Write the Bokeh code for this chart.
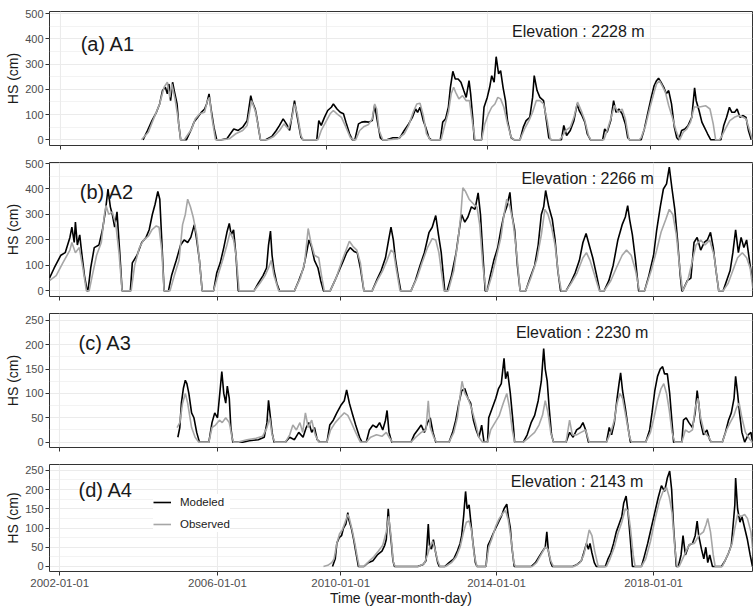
from bokeh.plotting import figure
from bokeh.layouts import column
from bokeh.models import Range1d, FixedTicker, Label, Legend, LegendItem, CustomLabelingPolicy
from bokeh.embed import file_html
from bokeh.resources import INLINE

FONT = "Liberation Sans"

station_tags = ["(a) A1", "(b) A2", "(c) A3", "(d) A4"]
elevations_m = [2228, 2266, 2230, 2143]
date_tick_labels = ["2002-01-01", "2006-01-01", "2010-01-01", "2014-01-01", "2018-01-01"]
# tick locations (decimal years) as they are drawn in the source figure
ticks_a = [2003.43, 2006.84, 2010.0, 2013.98, 2018.0]
ticks_bcd = [2002.87, 2006.89, 2010.03, 2014.0, 2018.0]

# ---------------- A1 ----------------
a1_mod_t = [2005.47, 2005.58, 2005.69, 2005.80, 2005.88, 2005.95, 2006.02, 2006.07, 2006.11, 2006.15, 2006.20, 2006.24, 2006.31, 2006.35, 2006.40,
            2006.54, 2006.65, 2006.73, 2006.82, 2006.91, 2006.99, 2007.04, 2007.10, 2007.15, 2007.22, 2007.29,
            2007.40, 2007.54, 2007.71, 2007.82, 2007.93, 2008.04, 2008.13, 2008.17, 2008.24, 2008.28, 2008.33, 2008.37,
            2008.50, 2008.65, 2008.76, 2008.84, 2008.93, 2009.01, 2009.09, 2009.17, 2009.21, 2009.28, 2009.37, 2009.42,
            2009.76, 2009.81, 2009.87, 2009.95, 2010.03, 2010.12, 2010.17, 2010.26, 2010.34, 2010.42, 2010.48, 2010.57, 2010.64,
            2010.70, 2010.79, 2010.87, 2010.95, 2011.04, 2011.13, 2011.19, 2011.26, 2011.33, 2011.39,
            2011.49, 2011.64, 2011.81, 2011.92, 2012.03, 2012.12, 2012.20, 2012.25, 2012.31, 2012.39, 2012.45, 2012.53, 2012.59,
            2012.81, 2012.87, 2012.94, 2013.01, 2013.06, 2013.12, 2013.18, 2013.25, 2013.32, 2013.39, 2013.45, 2013.52, 2013.56, 2013.61, 2013.65,
            2013.83, 2013.89, 2013.97, 2014.03, 2014.08, 2014.14, 2014.19, 2014.25, 2014.30, 2014.36, 2014.42, 2014.47, 2014.56, 2014.64,
            2014.78, 2014.86, 2014.93, 2015.02, 2015.09, 2015.13, 2015.20, 2015.27, 2015.36, 2015.42, 2015.49, 2015.56,
            2015.80, 2015.86, 2015.93, 2016.02, 2016.11, 2016.19, 2016.24, 2016.31, 2016.38, 2016.44, 2016.52,
            2016.82, 2016.87, 2016.93, 2017.02, 2017.09, 2017.15, 2017.22, 2017.30, 2017.38, 2017.44, 2017.49,
            2017.77, 2017.85, 2017.93, 2018.02, 2018.09, 2018.15, 2018.20, 2018.26, 2018.33, 2018.39, 2018.45, 2018.52, 2018.59, 2018.65, 2018.70,
            2018.77, 2018.85, 2018.93, 2019.02, 2019.09, 2019.13, 2019.20, 2019.27, 2019.33, 2019.41, 2019.49,
            2019.74, 2019.81, 2019.88, 2019.95, 2020.01, 2020.08, 2020.14, 2020.21, 2020.29, 2020.36, 2020.42, 2020.49]
a1_mod_hs = [0, 37, 76, 109, 142, 195, 208, 182, 221, 155, 228, 195, 142, 63, 0,
             0, 37, 70, 89, 109, 122, 142, 182, 122, 50, 0,
             0, 4, 43, 37, 50, 76, 175, 149, 122, 89, 37, 0,
             0, 13, 37, 57, 83, 63, 37, 116, 155, 89, 10, 0,
             0, 76, 57, 89, 116, 129, 142, 122, 109, 103, 70, 24, 0,
             0, 63, 70, 72, 70, 76, 136, 70, 8, 0,
             0, 8, 8, 37, 63, 89, 122, 109, 129, 76, 50, 8, 0,
             0, 70, 83, 129, 208, 271, 241, 241, 228, 195, 168, 234, 182, 89, 0,
             0, 129, 168, 208, 254, 228, 329, 261, 274, 208, 155, 76, 8, 0,
             0, 50, 76, 89, 168, 254, 195, 168, 155, 89, 8, 0,
             0, 57, 17, 37, 76, 142, 116, 96, 70, 24, 0,
             0, 43, 30, 76, 155, 109, 122, 103, 63, 8, 0,
             0, 43, 103, 168, 214, 234, 244, 228, 208, 182, 195, 142, 50, 8, 0,
             37, 43, 57, 89, 206, 155, 116, 70, 50, 24, 0,
             0, 57, 89, 129, 109, 109, 122, 89, 96, 89, 37, 0]
a1_obs_t = [2005.43, 2005.60, 2005.73, 2005.88, 2005.99, 2006.07, 2006.13, 2006.18, 2006.26, 2006.33, 2006.40,
            2006.49, 2006.67, 2006.76, 2006.87, 2006.99, 2007.06, 2007.11, 2007.17, 2007.26,
            2007.45, 2007.60, 2007.76, 2007.93, 2008.04, 2008.15, 2008.24, 2008.32, 2008.37,
            2008.54, 2008.70, 2008.84, 2008.95, 2009.06, 2009.15, 2009.21, 2009.28, 2009.37, 2009.42,
            2009.79, 2009.87, 2009.98, 2010.09, 2010.17, 2010.26, 2010.37, 2010.48, 2010.59, 2010.68,
            2010.72, 2010.82, 2010.93, 2011.04, 2011.13, 2011.19, 2011.24, 2011.30, 2011.39,
            2011.52, 2011.75, 2011.92, 2012.03, 2012.14, 2012.23, 2012.31, 2012.39, 2012.47, 2012.56,
            2012.83, 2012.92, 2013.01, 2013.08, 2013.14, 2013.19, 2013.27, 2013.36, 2013.45, 2013.53, 2013.61, 2013.67,
            2013.83, 2013.91, 2014.00, 2014.08, 2014.16, 2014.23, 2014.30, 2014.38, 2014.47, 2014.56, 2014.64,
            2014.78, 2014.89, 2015.00, 2015.09, 2015.18, 2015.27, 2015.36, 2015.45, 2015.53,
            2015.75, 2015.80, 2015.91, 2016.02, 2016.11, 2016.20, 2016.29, 2016.38, 2016.47, 2016.53,
            2016.85, 2016.93, 2017.02, 2017.11, 2017.20, 2017.30, 2017.38, 2017.47,
            2017.72, 2017.77, 2017.88, 2017.99, 2018.09, 2018.15, 2018.22, 2018.29, 2018.37, 2018.45, 2018.54, 2018.63, 2018.72,
            2018.81, 2018.90, 2018.99, 2019.08, 2019.21, 2019.36, 2019.47, 2019.55, 2019.61,
            2019.70, 2019.74, 2019.85, 2019.96, 2020.07, 2020.18, 2020.29, 2020.36, 2020.45, 2020.52]
a1_obs_hs = [0, 30, 83, 142, 208, 228, 168, 221, 162, 89, 0,
             0, 43, 83, 103, 109, 155, 168, 89, 0,
             0, 4, 24, 37, 57, 155, 116, 50, 0,
             0, 13, 37, 63, 43, 89, 142, 103, 17, 0,
             0, 37, 70, 103, 116, 103, 89, 50, 8, 0,
             0, 37, 53, 61, 83, 142, 122, 37, 0,
             0, 3, 24, 57, 109, 142, 145, 96, 24, 0,
             0, 57, 109, 182, 208, 188, 162, 175, 155, 155, 63, 0,
             0, 63, 103, 129, 142, 168, 162, 129, 63, 10, 0,
             0, 43, 76, 109, 155, 155, 142, 76, 0,
             0, 8, 37, 50, 89, 149, 116, 76, 17, 0,
             0, 37, 83, 136, 109, 122, 83, 0,
             0, 8, 57, 129, 188, 221, 234, 214, 188, 136, 89, 37, 0,
             30, 43, 70, 130, 130, 135, 122, 63, 0,
             0, 8, 43, 76, 89, 96, 89, 83, 37, 0]

# ---------------- A2 ----------------
a2_mod_t = [2002.61, 2002.73, 2002.90, 2003.01, 2003.13, 2003.18, 2003.24, 2003.27, 2003.32, 2003.38, 2003.43, 2003.50, 2003.57,
            2003.59, 2003.66, 2003.75, 2003.87, 2003.96, 2004.04, 2004.10, 2004.16, 2004.21, 2004.27, 2004.33, 2004.40, 2004.46,
            2004.67, 2004.72, 2004.84, 2004.96, 2005.07, 2005.15, 2005.23, 2005.30, 2005.37, 2005.42, 2005.47, 2005.53,
            2005.64, 2005.72, 2005.84, 2005.95, 2006.04, 2006.13, 2006.21, 2006.30, 2006.36, 2006.43, 2006.50,
            2006.79, 2006.87, 2006.96, 2007.05, 2007.13, 2007.19, 2007.24, 2007.30, 2007.36, 2007.42,
            2007.82, 2007.93, 2008.05, 2008.14, 2008.19, 2008.24, 2008.28, 2008.33, 2008.40, 2008.47,
            2008.85, 2008.96, 2009.08, 2009.16, 2009.22, 2009.29, 2009.36, 2009.45, 2009.52, 2009.59,
            2009.76, 2009.88, 2009.99, 2010.10, 2010.18, 2010.27, 2010.37, 2010.45, 2010.53, 2010.62,
            2010.83, 2010.94, 2011.06, 2011.17, 2011.25, 2011.31, 2011.37, 2011.42, 2011.49, 2011.56,
            2011.82, 2011.93, 2012.05, 2012.16, 2012.28, 2012.36, 2012.45, 2012.52, 2012.59, 2012.68,
            2012.74, 2012.85, 2012.97, 2013.05, 2013.11, 2013.19, 2013.27, 2013.36, 2013.45, 2013.53, 2013.59, 2013.66, 2013.71,
            2013.76, 2013.84, 2013.93, 2014.03, 2014.11, 2014.19, 2014.26, 2014.34, 2014.39, 2014.46, 2014.53, 2014.60,
            2014.74, 2014.85, 2014.97, 2015.06, 2015.14, 2015.20, 2015.25, 2015.33, 2015.42, 2015.49, 2015.56, 2015.63,
            2015.77, 2015.88, 2016.00, 2016.11, 2016.20, 2016.28, 2016.36, 2016.45, 2016.55, 2016.63,
            2016.74, 2016.86, 2016.97, 2017.09, 2017.20, 2017.28, 2017.34, 2017.39, 2017.46, 2017.54, 2017.62,
            2017.77, 2017.88, 2018.00, 2018.08, 2018.17, 2018.25, 2018.33, 2018.40, 2018.47, 2018.54, 2018.61, 2018.68, 2018.72,
            2018.74, 2018.86, 2018.95, 2019.03, 2019.11, 2019.20, 2019.29, 2019.37, 2019.45, 2019.52, 2019.59, 2019.66,
            2019.77, 2019.86, 2019.95, 2020.02, 2020.09, 2020.16, 2020.23, 2020.30, 2020.37, 2020.46, 2020.53]
a2_mod_hs = [50, 90, 140, 150, 210, 250, 190, 270, 180, 220, 150, 60, 0,
             0, 90, 170, 180, 240, 320, 400, 330, 300, 250, 310, 150, 0,
             0, 110, 140, 190, 210, 240, 300, 340, 390, 360, 200, 0,
             0, 60, 120, 180, 200, 190, 210, 260, 200, 120, 0,
             0, 70, 110, 170, 230, 265, 220, 240, 140, 0,
             0, 30, 60, 90, 180, 235, 140, 80, 30, 0,
             0, 40, 90, 150, 200, 170, 120, 90, 40, 0,
             0, 40, 80, 120, 150, 170, 155, 150, 90, 0,
             0, 40, 80, 130, 200, 250, 200, 130, 60, 0,
             0, 40, 100, 150, 230, 250, 296, 220, 150, 0,
             0, 60, 150, 240, 300, 270, 290, 330, 320, 385, 300, 120, 0,
             0, 60, 120, 170, 240, 300, 330, 387, 300, 240, 100, 0,
             0, 50, 100, 180, 300, 330, 394, 330, 280, 200, 80, 0,
             0, 30, 70, 120, 190, 225, 180, 130, 60, 0,
             0, 40, 100, 200, 260, 290, 335, 280, 220, 120, 0,
             0, 60, 140, 240, 330, 400, 420, 486, 400, 320, 200, 60, 0,
             0, 40, 50, 190, 210, 160, 190, 200, 230, 170, 80, 0,
             0, 40, 80, 150, 240, 150, 210, 170, 200, 100, 30]
a2_obs_t = [2002.61, 2002.78, 2002.95, 2003.13, 2003.18, 2003.27, 2003.37, 2003.46, 2003.55,
            2003.62, 2003.70, 2003.81, 2003.93, 2004.01, 2004.05, 2004.12, 2004.21, 2004.30, 2004.38, 2004.46,
            2004.69, 2004.78, 2004.90, 2005.01, 2005.13, 2005.22, 2005.33, 2005.40, 2005.47, 2005.53,
            2005.68, 2005.79, 2005.91, 2006.00, 2006.07, 2006.13, 2006.20, 2006.27, 2006.36, 2006.43, 2006.50,
            2006.79, 2006.90, 2007.02, 2007.13, 2007.21, 2007.30, 2007.37, 2007.44,
            2007.82, 2007.97, 2008.10, 2008.19, 2008.26, 2008.33, 2008.45,
            2008.85, 2009.00, 2009.11, 2009.20, 2009.27, 2009.36, 2009.47, 2009.54, 2009.61,
            2009.76, 2009.91, 2010.02, 2010.14, 2010.25, 2010.34, 2010.44, 2010.53, 2010.62,
            2010.83, 2010.96, 2011.10, 2011.21, 2011.31, 2011.38, 2011.44, 2011.54,
            2011.82, 2011.97, 2012.10, 2012.24, 2012.36, 2012.45, 2012.53, 2012.66,
            2012.77, 2012.91, 2013.02, 2013.09, 2013.14, 2013.21, 2013.30, 2013.42, 2013.50, 2013.57, 2013.65, 2013.73,
            2013.76, 2013.88, 2013.99, 2014.11, 2014.19, 2014.26, 2014.34, 2014.42, 2014.51, 2014.60,
            2014.74, 2014.87, 2015.02, 2015.14, 2015.23, 2015.31, 2015.40, 2015.49, 2015.58, 2015.65,
            2015.77, 2015.90, 2016.05, 2016.20, 2016.29, 2016.38, 2016.50, 2016.62,
            2016.74, 2016.91, 2017.05, 2017.20, 2017.31, 2017.43, 2017.54, 2017.64,
            2017.77, 2017.94, 2018.08, 2018.19, 2018.31, 2018.40, 2018.49, 2018.58, 2018.66, 2018.74,
            2018.87, 2018.99, 2019.08, 2019.20, 2019.31, 2019.43, 2019.54, 2019.66,
            2019.77, 2019.90, 2020.02, 2020.14, 2020.26, 2020.37, 2020.46, 2020.53]
a2_obs_hs = [40, 60, 110, 160, 190, 150, 170, 90, 0,
             0, 60, 140, 190, 300, 335, 300, 310, 260, 150, 0,
             0, 100, 170, 200, 215, 240, 255, 250, 160, 0,
             0, 60, 120, 260, 300, 360, 330, 290, 220, 120, 0,
             0, 60, 120, 180, 230, 200, 130, 0,
             0, 30, 60, 90, 120, 60, 0,
             0, 50, 110, 245, 190, 140, 130, 60, 0,
             0, 50, 100, 150, 195, 175, 160, 110, 0,
             0, 40, 80, 120, 160, 150, 90, 0,
             0, 50, 110, 170, 205, 200, 150, 0,
             0, 80, 200, 300, 405, 390, 360, 340, 330, 260, 100, 0,
             0, 60, 130, 210, 300, 360, 330, 270, 150, 0,
             0, 50, 120, 220, 320, 300, 250, 180, 60, 0,
             0, 30, 70, 130, 150, 120, 60, 0,
             0, 40, 90, 140, 160, 140, 80, 0,
             0, 80, 160, 230, 280, 320, 300, 220, 100, 0,
             40, 120, 180, 200, 180, 200, 140, 0,
             0, 30, 80, 130, 150, 130, 90, 10]

# ---------------- A3 ----------------
a3_mod_t = [2005.88, 2005.93, 2005.97, 2006.02, 2006.07, 2006.11, 2006.16, 2006.23, 2006.29, 2006.36, 2006.43,
            2006.67, 2006.75, 2006.82, 2006.89, 2006.96, 2007.00, 2007.05, 2007.10, 2007.14, 2007.19, 2007.23, 2007.28,
            2007.53, 2007.70, 2007.93, 2008.08, 2008.15, 2008.19, 2008.24, 2008.28, 2008.33,
            2008.62, 2008.73, 2008.85, 2008.96, 2009.07, 2009.15, 2009.22, 2009.29, 2009.36, 2009.43, 2009.50,
            2009.68, 2009.75, 2009.84, 2009.93, 2010.03, 2010.12, 2010.18, 2010.25, 2010.32, 2010.41, 2010.51, 2010.57,
            2010.68, 2010.76, 2010.85, 2010.94, 2011.02, 2011.10, 2011.17, 2011.21, 2011.26, 2011.33,
            2011.82, 2011.90, 2011.99, 2012.08, 2012.16, 2012.24, 2012.31, 2012.38, 2012.45,
            2012.79, 2012.88, 2012.96, 2013.04, 2013.11, 2013.19, 2013.27, 2013.34, 2013.41, 2013.48, 2013.55, 2013.62, 2013.68,
            2013.77, 2013.80, 2013.89, 2013.98, 2014.05, 2014.12, 2014.19, 2014.23, 2014.28, 2014.35, 2014.42, 2014.46,
            2014.68, 2014.78, 2014.88, 2014.97, 2015.06, 2015.14, 2015.20, 2015.24, 2015.29, 2015.34, 2015.40, 2015.45,
            2015.77, 2015.86, 2015.95, 2016.04, 2016.13, 2016.20, 2016.27, 2016.34,
            2016.80, 2016.87, 2016.93, 2017.00, 2017.07, 2017.12, 2017.16, 2017.21, 2017.28, 2017.35, 2017.41,
            2017.80, 2017.90, 2017.96, 2018.03, 2018.10, 2018.17, 2018.23, 2018.28, 2018.35, 2018.41, 2018.47, 2018.51,
            2018.72, 2018.76, 2018.83, 2018.90, 2018.99, 2019.06, 2019.11, 2019.15, 2019.20, 2019.27, 2019.36, 2019.43, 2019.47,
            2019.75, 2019.83, 2019.91, 2019.98, 2020.05, 2020.09, 2020.14, 2020.19, 2020.25, 2020.32, 2020.41, 2020.48, 2020.52]
a3_mod_hs = [10, 30, 80, 110, 127, 120, 100, 60, 50, 20, 0,
             0, 40, 60, 50, 110, 145, 100, 80, 115, 90, 30, 0,
             0, 3, 5, 10, 40, 86, 50, 20, 0,
             0, 10, 5, 20, 10, 30, 40, 20, 30, 5, 0,
             0, 35, 45, 60, 75, 85, 107, 80, 60, 35, 10, 0,
             0, 25, 35, 30, 40, 25, 45, 65, 20, 0,
             0, 15, 25, 35, 20, 40, 50, 20, 0,
             0, 20, 45, 80, 105, 110, 90, 80, 45, 25, 10, 35, 0,
             0, 50, 70, 90, 110, 120, 172, 130, 145, 100, 40, 0,
             0, 15, 40, 55, 85, 125, 192, 150, 125, 70, 15, 0,
             0, 20, 10, 25, 30, 40, 25, 0,
             0, 30, 15, 40, 90, 120, 142, 105, 70, 30, 0,
             0, 25, 60, 105, 135, 150, 155, 140, 140, 100, 40, 0,
             0, 45, 50, 40, 30, 60, 106, 80, 40, 15, 25, 5, 0,
             0, 20, 45, 60, 90, 135, 100, 60, 20, 0, 15, 20, 0]
a3_obs_t = [2005.86, 2005.93, 2006.00, 2006.07, 2006.13, 2006.23, 2006.32, 2006.41,
            2006.67, 2006.75, 2006.84, 2006.94, 2007.01, 2007.10, 2007.19, 2007.26, 2007.30,
            2007.42, 2007.64, 2007.87, 2008.04, 2008.15, 2008.22, 2008.28, 2008.35,
            2008.62, 2008.73, 2008.81, 2008.90, 2008.99, 2009.06, 2009.13, 2009.20, 2009.29, 2009.38, 2009.47,
            2009.68, 2009.77, 2009.89, 2010.00, 2010.12, 2010.21, 2010.30, 2010.41, 2010.53,
            2010.68, 2010.79, 2010.94, 2011.08, 2011.19, 2011.28, 2011.35,
            2011.82, 2011.94, 2012.08, 2012.20, 2012.26, 2012.31, 2012.40, 2012.47,
            2012.79, 2012.91, 2013.00, 2013.08, 2013.12, 2013.19, 2013.27, 2013.36, 2013.46, 2013.55, 2013.64,
            2013.77, 2013.85, 2013.96, 2014.07, 2014.17, 2014.26, 2014.33, 2014.40, 2014.46,
            2014.68, 2014.83, 2014.97, 2015.08, 2015.17, 2015.24, 2015.31, 2015.38, 2015.45,
            2015.77, 2015.86, 2015.93, 2016.04, 2016.15, 2016.27, 2016.36,
            2016.80, 2016.91, 2017.00, 2017.07, 2017.14, 2017.21, 2017.30, 2017.39, 2017.44,
            2017.80, 2017.92, 2018.01, 2018.10, 2018.19, 2018.26, 2018.33, 2018.40, 2018.47, 2018.54,
            2018.72, 2018.81, 2018.90, 2018.99, 2019.06, 2019.13, 2019.20, 2019.29, 2019.41, 2019.47,
            2019.75, 2019.86, 2019.95, 2020.05, 2020.11, 2020.18, 2020.25, 2020.34, 2020.46, 2020.52]
a3_obs_hs = [30, 40, 80, 100, 80, 30, 10, 0,
             0, 30, 35, 45, 40, 50, 40, 10, 0,
             0, 5, 8, 12, 30, 50, 15, 0,
             0, 15, 35, 25, 40, 20, 60, 30, 45, 15, 0,
             0, 25, 40, 50, 60, 55, 40, 20, 0,
             0, 10, 15, 12, 20, 8, 0,
             0, 10, 20, 25, 85, 30, 10, 0,
             0, 20, 50, 100, 125, 100, 90, 70, 40, 10, 0,
             0, 25, 40, 55, 80, 100, 70, 25, 0,
             0, 10, 20, 35, 55, 85, 60, 20, 0,
             0, 45, 15, 15, 20, 25, 0,
             0, 20, 45, 80, 100, 90, 50, 10, 0,
             0, 20, 50, 85, 110, 120, 100, 65, 20, 0,
             0, 25, 20, 25, 70, 90, 50, 20, 10, 0,
             0, 25, 40, 55, 70, 80, 50, 20, 5, 0]

# ---------------- A4 ----------------
a4_mod_t = [2009.82, 2009.89, 2009.93, 2009.99, 2010.05, 2010.10, 2010.16, 2010.21, 2010.24, 2010.30, 2010.36, 2010.41, 2010.48,
            2010.62, 2010.73, 2010.85, 2010.96, 2011.08, 2011.15, 2011.19, 2011.24, 2011.27, 2011.32, 2011.36, 2011.40,
            2011.99, 2012.13, 2012.20, 2012.26, 2012.29, 2012.34, 2012.39, 2012.45, 2012.50, 2012.54,
            2012.68, 2012.79, 2012.91, 2013.00, 2013.07, 2013.11, 2013.16, 2013.21, 2013.25, 2013.30, 2013.34, 2013.40, 2013.46, 2013.50,
            2013.73, 2013.78, 2013.85, 2013.91, 2013.98, 2014.05, 2014.12, 2014.19, 2014.26, 2014.30, 2014.35, 2014.39, 2014.45,
            2014.88, 2014.99, 2015.08, 2015.17, 2015.24, 2015.28, 2015.32, 2015.38, 2015.42,
            2015.94, 2016.05, 2016.16, 2016.22, 2016.29, 2016.34, 2016.38, 2016.43, 2016.49, 2016.54,
            2016.77, 2016.84, 2016.91, 2016.98, 2017.05, 2017.12, 2017.19, 2017.24, 2017.30, 2017.35, 2017.40, 2017.46,
            2017.69, 2017.76, 2017.85, 2017.94, 2018.03, 2018.12, 2018.20, 2018.28, 2018.35, 2018.41, 2018.46, 2018.51, 2018.58,
            2018.63, 2018.70, 2018.75, 2018.81, 2018.90, 2018.99, 2019.06, 2019.11, 2019.15, 2019.22, 2019.28, 2019.33, 2019.38, 2019.43, 2019.50,
            2019.73, 2019.82, 2019.91, 2019.98, 2020.02, 2020.07, 2020.09, 2020.14, 2020.20, 2020.25, 2020.32, 2020.39, 2020.46, 2020.52]
a4_mod_hs = [0, 20, 60, 75, 80, 100, 110, 140, 120, 100, 70, 40, 0,
             0, 10, 15, 30, 40, 55, 70, 150, 110, 60, 15, 0,
             0, 5, 15, 110, 55, 45, 70, 35, 10, 0,
             0, 10, 20, 40, 60, 80, 130, 195, 150, 160, 120, 60, 10, 0,
             0, 55, 70, 85, 100, 115, 130, 150, 162, 130, 100, 50, 0,
             0, 10, 25, 40, 50, 90, 40, 10, 0,
             0, 5, 15, 35, 60, 45, 60, 35, 10, 0,
             0, 20, 35, 60, 90, 110, 130, 165, 183, 140, 80, 0,
             0, 25, 60, 100, 140, 180, 210, 195, 230, 248, 200, 100, 0,
             0, 30, 80, 30, 55, 60, 80, 118, 80, 45, 20, 50, 10, 30, 0,
             0, 15, 35, 55, 100, 160, 230, 150, 115, 130, 100, 70, 30, 0]
a4_obs_t = [2009.59, 2009.70, 2009.80, 2009.86, 2009.93, 2010.00, 2010.07, 2010.14, 2010.21, 2010.25, 2010.32, 2010.39, 2010.45, 2010.50,
            2010.62, 2010.76, 2010.87, 2010.99, 2011.10, 2011.19, 2011.25, 2011.31, 2011.37, 2011.42,
            2012.01, 2012.16, 2012.24, 2012.31, 2012.37, 2012.43, 2012.50, 2012.56,
            2012.70, 2012.85, 2012.97, 2013.07, 2013.16, 2013.23, 2013.30, 2013.36, 2013.43, 2013.50,
            2013.73, 2013.80, 2013.89, 2013.98, 2014.07, 2014.17, 2014.23, 2014.30, 2014.37, 2014.44, 2014.48,
            2014.91, 2015.02, 2015.13, 2015.24, 2015.31, 2015.38, 2015.45,
            2015.97, 2016.13, 2016.22, 2016.29, 2016.36, 2016.43, 2016.50, 2016.59,
            2016.80, 2016.89, 2017.00, 2017.09, 2017.19, 2017.28, 2017.35, 2017.41, 2017.48, 2017.53,
            2017.69, 2017.80, 2017.92, 2018.03, 2018.15, 2018.24, 2018.33, 2018.40, 2018.47, 2018.54, 2018.60,
            2018.65, 2018.74, 2018.83, 2018.92, 2019.04, 2019.15, 2019.27, 2019.34, 2019.38, 2019.45, 2019.52, 2019.57,
            2019.75, 2019.84, 2019.93, 2020.00, 2020.07, 2020.14, 2020.23, 2020.32, 2020.39, 2020.48, 2020.55]
a4_obs_hs = [0, 3, 10, 20, 60, 85, 95, 115, 135, 125, 95, 60, 25, 0,
             0, 15, 25, 40, 55, 90, 130, 80, 10, 0,
             0, 8, 30, 55, 65, 45, 15, 0,
             0, 10, 25, 50, 90, 115, 118, 95, 30, 0,
             0, 50, 75, 105, 125, 140, 145, 120, 70, 10, 0,
             0, 10, 30, 50, 45, 15, 0,
             0, 10, 30, 60, 95, 80, 40, 0,
             0, 20, 50, 85, 115, 150, 145, 100, 30, 0,
             0, 20, 65, 120, 170, 195, 205, 180, 140, 50, 0,
             0, 20, 40, 58, 60, 80, 90, 110, 125, 90, 30, 0,
             0, 20, 40, 60, 100, 135, 130, 135, 125, 90, 20]

MOD_COLOR = "#000000"
OBS_COLOR = "#a6a6a6"
GRID = "#ebebeb"
DARK = "#333333"


def make_panel(idx, mod_t, mod_v, obs_t, obs_v, x_start, ticks, y_start, y_end,
               y_major, y_minor, height, top, bottom, tag_xy, elev_xy, last=False):
    p = figure(width=753, height=height, output_backend="svg", toolbar_location=None,
               x_range=Range1d(x_start, 2020.52), y_range=Range1d(y_start, y_end),
               min_border_left=49, min_border_right=1, min_border_top=top, min_border_bottom=bottom,
               background_fill_color="white", border_fill_color="white")
    p.outline_line_color = DARK
    p.outline_line_width = 1

    xt = FixedTicker(ticks=ticks)
    yt = FixedTicker(ticks=y_major, minor_ticks=y_minor)
    p.xaxis.ticker = xt
    p.xgrid.ticker = xt
    p.yaxis.ticker = yt
    p.ygrid.ticker = yt
    p.xgrid.grid_line_color = GRID
    p.ygrid.grid_line_color = GRID
    p.xgrid.grid_line_width = 1.1
    p.ygrid.grid_line_width = 1.1
    p.ygrid.minor_grid_line_color = GRID
    p.ygrid.minor_grid_line_width = 0.6

    for ax in (p.xaxis[0], p.yaxis[0]):
        ax.axis_line_color = None
        ax.major_tick_line_color = DARK
        ax.major_tick_in = 0
        ax.major_tick_out = 4
        ax.minor_tick_line_color = None
        ax.major_label_text_color = "#4d4d4d"
        ax.major_label_text_font = FONT
        ax.axis_label_text_font = FONT
        ax.axis_label_text_font_style = "normal"
        ax.axis_label_text_color = "#1a1a1a"
        ax.axis_label_text_font_size = "14px"

    p.yaxis.major_label_text_font_size = "11px"
    p.yaxis.major_label_standoff = 2
    p.yaxis.axis_label = "HS (cm)"
    p.yaxis.axis_label_standoff = 1

    if last:
        p.xaxis.major_label_overrides = {t: lab for t, lab in zip(ticks, date_tick_labels)}
        p.xaxis.major_label_text_font_size = "11.5px"
        p.xaxis.major_label_standoff = 3
        p.xaxis.axis_label = "Time (year-month-day)"
        p.xaxis.axis_label_standoff = 0
    else:
        # tick marks only, no tick labels on the upper panels
        p.xaxis.major_label_policy = CustomLabelingPolicy(code="return [];")
        p.xaxis.major_label_text_font_size = "1px"
        p.xaxis.major_label_standoff = 0

    r_mod = p.line(mod_t, mod_v, line_color=MOD_COLOR, line_width=1.6)
    r_obs = p.line(obs_t, obs_v, line_color=OBS_COLOR, line_width=1.6)

    p.add_layout(Label(x=tag_xy[0], y=tag_xy[1], text=station_tags[idx], text_font=FONT,
                       text_font_size="20px", text_color="#1a1a1a",
                       text_align="left", text_baseline="middle"))
    p.add_layout(Label(x=elev_xy[0], y=elev_xy[1], text="Elevation : %d m" % elevations_m[idx],
                       text_font=FONT, text_font_size="16px", text_color="#1a1a1a",
                       text_align="center", text_baseline="middle"))

    if last:
        legend = Legend(items=[LegendItem(label="Modeled", renderers=[r_mod]),
                               LegendItem(label="Observed", renderers=[r_obs])],
                        location=(104, 39), orientation="vertical",
                        border_line_color=None, background_fill_color="white",
                        background_fill_alpha=1.0, padding=5, spacing=6, margin=0,
                        glyph_width=18, glyph_height=16, label_height=16,
                        label_standoff=9, label_text_font=FONT,
                        label_text_font_size="11.5px", label_text_color="#1a1a1a")
        p.add_layout(legend, "center")
    return p


pa = make_panel(0, a1_mod_t, a1_mod_hs, a1_obs_t, a1_obs_hs, 2003.16, ticks_a, -22.5, 508,
                [0, 100, 200, 300, 400, 500], [50, 150, 250, 350, 450],
                153, 11, 8, (2003.93, 380), (2016.22, 428))
pb = make_panel(1, a2_mod_t, a2_mod_hs, a2_obs_t, a2_obs_hs, 2002.61, ticks_bcd, -22, 504,
                [0, 100, 200, 300, 400, 500], [50, 150, 250, 350, 450],
                152, 9, 9, (2003.38, 387), (2016.32, 442))
pc = make_panel(2, a3_mod_t, a3_mod_hs, a3_obs_t, a3_obs_hs, 2002.61, ticks_bcd, -11, 264,
                [0, 50, 100, 150, 200, 250], [25, 75, 125, 175, 225],
                151, 8, 9, (2003.35, 203), (2016.18, 225))
pd_ = make_panel(3, a4_mod_t, a4_mod_hs, a4_obs_t, a4_obs_hs, 2002.61, ticks_bcd, -13, 265,
                 [0, 50, 100, 150, 200, 250], [25, 75, 125, 175, 225],
                 152, 8, 37, (2003.35, 198), (2016.05, 221), last=True)

layout = column(pa, pb, pc, pd_, spacing=0)
open("out.html", "w").write(file_html(layout, INLINE))
